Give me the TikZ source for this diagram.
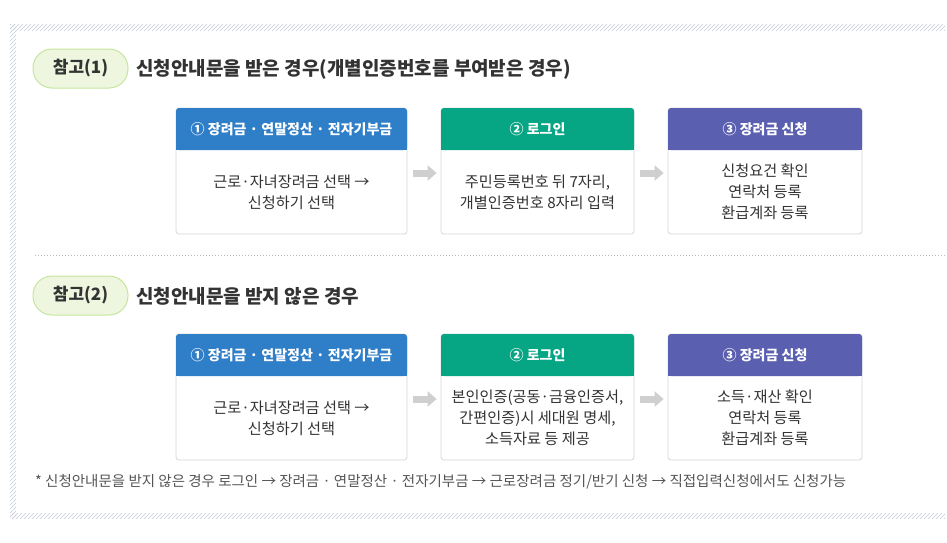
\documentclass[tikz,border=0pt]{standalone}
\usepackage{fontspec}
\setmainfont{Noto Sans CJK KR}
\usetikzlibrary{arrows.meta,calc}
\definecolor{txt}{HTML}{333333}
\definecolor{foot}{HTML}{555555}
\definecolor{boxline}{HTML}{D6D6D6}
\definecolor{hblue}{HTML}{2F7EC8}
\definecolor{hgreen}{HTML}{06A584}
\definecolor{hpurple}{HTML}{5A5FB0}
\definecolor{badgefill}{HTML}{EEF6E0}
\definecolor{badgeline}{HTML}{C6E59C}
\definecolor{hatchc}{HTML}{C6CAD8}
\definecolor{arrowc}{HTML}{CFCFCF}
\definecolor{sepc}{HTML}{BBBBBB}
\tikzset{
  boxframe/.style={draw=boxline, fill=white, rounded corners=3pt, line width=0.8pt, inner sep=0pt},
  hdrtext/.style={text=white, font=\bfseries\fontsize{14}{16}\selectfont, inner sep=0pt},
  bodytext/.style={text=txt, font=\fontsize{15.2}{21}\selectfont, align=center, inner sep=0pt},
  badge/.style={draw=badgeline, fill=badgefill, line width=1pt, rounded corners=19pt,
    minimum width=95pt, minimum height=39pt, inner sep=0pt, text=txt,
    font=\bfseries\fontsize{17}{19}\selectfont},
  titletext/.style={text=txt, font=\bfseries\fontsize{19}{21}\selectfont, inner sep=0pt, anchor=west},
  flowarrow/.style={draw=arrowc, line width=7pt, -{Triangle[width=15pt,length=9pt]}},
  hatch/.style={draw=hatchc, line width=0.55pt},
  sepline/.style={draw=sepc, line width=1pt, dash pattern=on 1pt off 2pt},
  foottext/.style={text=foot, font=\fontsize{14.5}{16}\selectfont, inner sep=0pt, anchor=west}
}
% name, x1, x2, header top, header bottom, body bottom, colour, header, body
\newcommand{\procbox}[9]{%
  \node[boxframe, minimum width={(#3-#2)*1pt}, minimum height={(#6-#4)*1pt}] (#1) at ({(#2+#3)/2},{(#4+#6)/2}) {};
  \fill[#7, rounded corners=3pt] (#2,#4) rectangle (#3,#5);
  \fill[#7] (#2,{#5-5}) rectangle (#3,#5);
  \node[hdrtext] (#1h) at ({(#2+#3)/2},{(#4+#5)/2}) {#8};
  \node[bodytext] (#1b) at ({(#2+#3)/2},{(#5+#6)/2}) {#9};
}
\begin{document}
\begin{tikzpicture}[x=1pt,y=-1pt]
\useasboundingbox (0,0) rectangle (947,542);
% hatched frame: top, bottom and left bands
\foreach \xa/\ya/\xb/\yb in {10/24/945/30, 10/513/945/519, 10/24/16/519} {
  \begin{scope}
    \clip (\xa,\ya) rectangle (\xb,\yb);
    \foreach \x in {-500,-496,...,952} { \draw[hatch] (\x,519) -- ({\x+495},24); }
  \end{scope}
}
% section 1
\node[badge] (r1) at (80.5,68.5) {참고(1)};
\node[titletext] (t1) at (136,69) {신청안내문을 받은 경우(개별인증번호를 부여받은 경우)};
\procbox{a1}{176}{407}{108}{150}{234}{hblue}{① 장려금 · 연말정산 · 전자기부금}{근로·자녀장려금 선택 →\\신청하기 선택}
\procbox{a2}{441}{634}{108}{150}{234}{hgreen}{② 로그인}{주민등록번호 뒤 7자리,\\개별인증번호 8자리 입력}
\procbox{a3}{668}{862}{108}{150}{234}{hpurple}{③ 장려금 신청}{신청요건 확인\\연락처 등록\\환급계좌 등록}
\draw[flowarrow] ($(a1.east)+(6,2)$) -- ($(a2.west)+(-4,2)$);
\draw[flowarrow] ($(a2.east)+(6,2)$) -- ($(a3.west)+(-4,2)$);
% separator
\coordinate (s1) at (35,255);
\coordinate (s2) at (947,255);
\draw[sepline] (s1) -- (s2);
% section 2
\node[badge] (r2) at (80.5,295.5) {참고(2)};
\node[titletext] (t2) at (136,296) {신청안내문을 받지 않은 경우};
\procbox{b1}{176}{407}{334}{376}{460}{hblue}{① 장려금 · 연말정산 · 전자기부금}{근로·자녀장려금 선택 →\\신청하기 선택}
\procbox{b2}{441}{634}{334}{376}{460}{hgreen}{② 로그인}{본인인증(공동·금융인증서,\\간편인증)시 세대원 명세,\\소득자료 등 제공}
\procbox{b3}{668}{862}{334}{376}{460}{hpurple}{③ 장려금 신청}{소득·재산 확인\\연락처 등록\\환급계좌 등록}
\draw[flowarrow] ($(b1.east)+(6,2)$) -- ($(b2.west)+(-4,2)$);
\draw[flowarrow] ($(b2.east)+(6,2)$) -- ($(b3.west)+(-4,2)$);
% footnote
\node[foottext] (fn) at (35,482) {* 신청안내문을 받지 않은 경우 로그인 → 장려금 · 연말정산 · 전자기부금 → 근로장려금 정기/반기 신청 → 직접입력신청에서도 신청가능};
\end{tikzpicture}
\end{document}
